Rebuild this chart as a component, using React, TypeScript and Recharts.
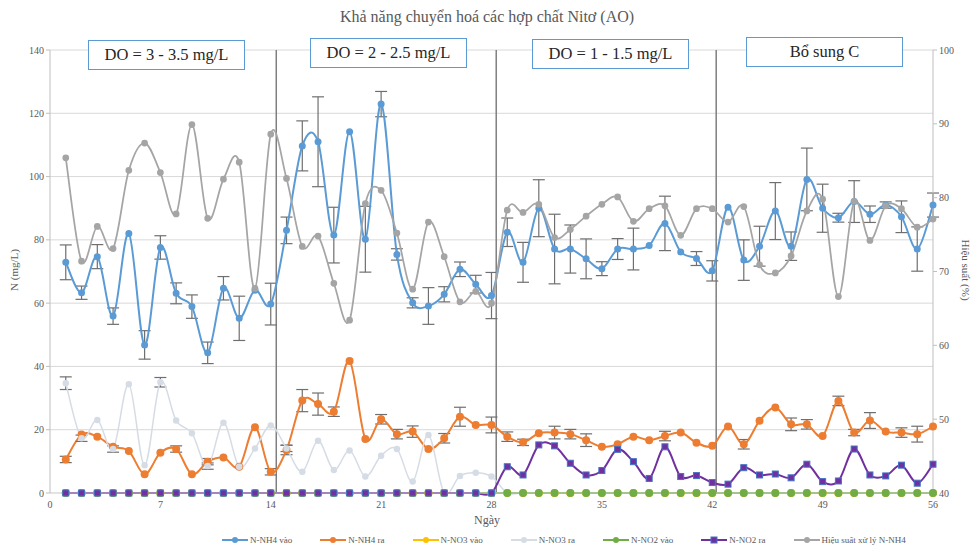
import React from "react";
import { ComposedChart, Line, XAxis, YAxis, CartesianGrid, ReferenceLine, ErrorBar } from "recharts";

const days = [
  1, 2, 3, 4, 5, 6, 7, 8, 9, 10, 11, 12, 13, 14, 15, 16, 17, 18, 19, 20, 21, 22, 23, 24, 25, 26, 27, 28,
  29, 30, 31, 32, 33, 34, 35, 36, 37, 38, 39, 40, 41, 42, 43, 44, 45, 46, 47, 48, 49, 50, 51, 52, 53, 54, 55, 56,
];

const nh4In = [
  72.9, 63.3, 74.7, 55.9, 82, 46.8, 77.6, 63.1, 58.9, 44.3, 64.7, 55.2, 64.1, 59.7, 83, 109.7, 111, 81.5, 114.2, 80.2,
  122.9, 75.4, 60.1, 59.1, 62.8, 70.7, 66, 62.4, 82.4, 72.9, 90, 77.1, 77.1, 74, 70.9, 77.1, 77.1, 78.2, 85.2, 76.2,
  74.1, 70.2, 90.3, 73.6, 78, 89.1, 78, 99.1, 90, 87, 92.1, 88.1, 91, 87.3, 77.1, 91,
];
const nh4InErr = [
  5.5, 2.1, 3.8, 2.6, null, 4.5, 3.7, 3.3, 3.7, 3.4, 3.7, 7, null, 6.6, 4.2, 7.9, 14.2, 8.8, null, 10.4,
  4, 1.8, 1.6, 5.8, 2.4, 2.3, 2.8, 7.3, 4.5, 6.3, 9, 11, 7.6, 6.3, 2.2, 3.3, 6.6, null, 8.6, null,
  2.2, 3.2, null, 6.4, 6.3, 9, 4.5, 9.9, 7.6, 1.4, 6.6, 2.6, 1, 5, 7, 3.8,
];

const nh4Out = [
  10.6, 18.5, 17.8, 14.6, 13.3, 5.9, 12.7, 13.9, 5.9, 9.9, 11.2, 8.3, 20.8, 6.7, 13.6, 29.2, 28.1, 25.7, 41.7, 17.1,
  23.3, 18.6, 19.4, 13.9, 17.3, 24.1, 21.5, 21.5, 17.8, 16, 18.9, 19.1, 18.6, 16.7, 14.6, 15.4, 17.8, 16.7, 18, 19.1,
  15.9, 14.9, 21, 15.4, 22.8, 27, 21.7, 21.7, 18, 29.1, 19.1, 22.9, 19.4, 19.1, 18.6, 21,
];
const nh4OutErr = [
  1, null, null, null, null, null, null, 1, null, 1, null, null, null, 1, 1.5, 3.5, 3.5, 1.5, null, null,
  1.5, 1.5, 1.8, null, 1.5, 3, null, 2.5, 1.5, 1, null, 2, 1.5, 2, null, null, null, null, 1.5, null,
  null, null, null, 1.5, null, null, 2, 1.5, null, 1.5, 1, 2.5, null, 1.5, 2.5, null,
];

const no3In = [
  0, 0, 0, 0, 0, 0, 0, 0, 0, 0, 0, 0, 0, 0, 0, 0, 0, 0, 0, 0, 0, 0, 0, 0, 0, 0, 0, 0,
  0, 0, 0, 0, 0, 0, 0, 0, 0, 0, 0, 0, 0, 0, 0, 0, 0, 0, 0, 0, 0, 0, 0, 0, 0, 0, 0, 0,
];

const no3Out = [
  34.7, 17.3, 23.1, 13.9, 34.4, 8.8, 35, 22.9, 18.9, 8.5, 22.2, 8.3, 14.1, 21.3, 14.1, 6.7, 16.5, 7.3, 13.4, 5.2,
  11.8, 13.9, 3.6, 18.3, 0, 5.4, 6.4, 5.2, 0, 0, 0, 0, 0, 0, 0, 0, 0, 0, 0, 0,
  0, 0, 0, 0, 0, 0, 0, 0, 0, 0, 0, 0, 0, 0, 0, 0,
];
const no3OutErr = [
  2, 1, null, 1, null, null, 1.5, null, null, 1, null, null, null, null, 1, null, null, null, null, null,
  null, null, null, null, null, null, null, null, null, null, null, null, null, null, null, null, null, null, null, null,
  null, null, null, null, null, null, null, null, null, null, null, null, null, null, null, null,
];

const no2In = [
  0, 0, 0, 0, 0, 0, 0, 0, 0, 0, 0, 0, 0, 0, 0, 0, 0, 0, 0, 0, 0, 0, 0, 0, 0, 0, 0, 0,
  0, 0, 0, 0, 0, 0, 0, 0, 0, 0, 0, 0, 0, 0, 0, 0, 0, 0, 0, 0, 0, 0, 0, 0, 0, 0, 0, 0,
];

const no2Out = [
  0, 0, 0, 0, 0, 0, 0, 0, 0, 0, 0, 0, 0, 0, 0, 0, 0, 0, 0, 0, 0, 0, 0, 0, 0, 0, 0, 0,
  8.3, 5.7, 15.2, 14.9, 9.4, 5.7, 7.1, 13.8, 9.9, 4.6, 14.6, 5.2, 5.5, 3.3, 2.8, 8, 5.7, 6, 4.8, 9.1,
  3.6, 3.8, 13.9, 5.7, 5.4, 8.8, 3.1, 9.1,
];

const efficiency = [
  85.4, 71.4, 76.1, 73.1, 83.7, 87.4, 83.4, 77.8, 89.9, 77.2, 82.5, 84.8, 67.7, 88.6, 82.6, 73.4, 74.8, 68.4, 63.4, 79.2,
  81, 75.2, 67.6, 76.7, 72, 65.9, 67.3, 65.7, 78.3, 78, 79.1, 74.6, 75.7, 77.5, 79.1, 80.1, 76.8, 78.5, 78.9, 74.9,
  78.5, 78.5, 76.7, 78.8, 70.9, 69.8, 72.1, 78.2, 79.8, 66.6, 79.5, 74.2, 78.9, 78.5, 76, 77.1,
];

const xTicks = [0, 7, 14, 21, 28, 35, 42, 49, 56];
const leftTicks = [0, 20, 40, 60, 80, 100, 120, 140];
const rightTicks = [40, 50, 60, 70, 80, 90, 100];
const phaseBreaks = [14.35, 28.3, 42.25];
const phaseLabels = ["DO = 3 - 3.5 mg/L", "DO = 2 - 2.5 mg/L", "DO = 1 - 1.5 mg/L", "Bổ sung C"];
const phaseBoxes = [
  { left: 88, top: 40 },
  { left: 310, top: 38 },
  { left: 532, top: 39 },
  { left: 746, top: 37 },
];

const data = days.map((day, i) => ({
  day,
  nh4In: nh4In[i],
  nh4InErr: nh4InErr[i],
  nh4Out: nh4Out[i],
  nh4OutErr: nh4OutErr[i],
  no3In: no3In[i],
  no3Out: no3Out[i],
  no3OutErr: no3OutErr[i],
  no2In: no2In[i],
  no2Out: no2Out[i],
  efficiency: efficiency[i],
}));

// excel style smoothed line (catmull-rom through the points)
const smooth = (context: any) => {
  let pts: number[][] = [];
  return {
    areaStart() {},
    areaEnd() {},
    lineStart() {
      pts = [];
    },
    point(x: number, y: number) {
      pts.push([+x, +y]);
    },
    lineEnd() {
      if (!pts.length) return;
      context.moveTo(pts[0][0], pts[0][1]);
      for (let i = 0; i < pts.length - 1; i++) {
        const p0 = pts[i - 1] || pts[i];
        const p1 = pts[i];
        const p2 = pts[i + 1];
        const p3 = pts[i + 2] || p2;
        context.bezierCurveTo(
          p1[0] + (p2[0] - p0[0]) / 6,
          p1[1] + (p2[1] - p0[1]) / 6,
          p2[0] - (p3[0] - p1[0]) / 6,
          p2[1] - (p3[1] - p1[1]) / 6,
          p2[0],
          p2[1]
        );
      }
    },
  };
};

const SquareDot = (props: any) => {
  const { cx, cy, index } = props;
  if (cx == null || cy == null) return null;
  return <rect key={`sq-${index}`} x={cx - 3} y={cy - 3} width={6} height={6} fill="#7030a0" stroke="#4472c4" strokeWidth={1} />;
};

const font = "'Liberation Serif', 'Times New Roman', serif";
const tickStyle = { fill: "#595959", fontSize: 10, fontFamily: font };
const errColor = "#6f6f6f";

const legendItems = [
  { name: "N-NH4 vào", color: "#5b9bd5", shape: "circle" },
  { name: "N-NH4 ra", color: "#ed7d31", shape: "circle" },
  { name: "N-NO3 vào", color: "#ffc000", shape: "circle" },
  { name: "N-NO3 ra", color: "#d6dce5", shape: "circle" },
  { name: "N-NO2 vào", color: "#70ad47", shape: "circle" },
  { name: "N-NO2 ra", color: "#7030a0", shape: "square" },
  { name: "Hiệu suất xử lý N-NH4", color: "#a5a5a5", shape: "circle" },
];

export default function App() {
  return (
    <div style={{ position: "absolute", left: 0, top: 0, width: 974, height: 547, background: "#fff", fontFamily: font }}>
      <ComposedChart width={974} height={547} data={data} margin={{ top: 50, right: 5, bottom: 34, left: 10 }}>
        <CartesianGrid yAxisId="left" vertical={false} stroke="#d9d9d9" />
        <XAxis
          dataKey="day"
          type="number"
          domain={[0, 56]}
          ticks={xTicks}
          height={20}
          tick={tickStyle}
          tickLine={false}
          axisLine={{ stroke: "#d9d9d9" }}
        />
        <YAxis
          yAxisId="left"
          domain={[0, 140]}
          ticks={leftTicks}
          width={40}
          tick={tickStyle}
          tickSize={4}
          tickLine={{ stroke: "#bfbfbf" }}
          axisLine={{ stroke: "#bfbfbf" }}
        />
        <YAxis
          yAxisId="right"
          orientation="right"
          domain={[40, 100]}
          ticks={rightTicks}
          width={36}
          tick={tickStyle}
          tickSize={4}
          tickLine={{ stroke: "#bfbfbf" }}
          axisLine={{ stroke: "#bfbfbf" }}
        />
        {phaseBreaks.map((x) => (
          <ReferenceLine key={x} x={x} yAxisId="left" stroke="#7f7f7f" strokeWidth={1.5} />
        ))}
        <Line
          yAxisId="left"
          dataKey="nh4In"
          type={smooth as any}
          stroke="#5b9bd5"
          strokeWidth={2}
          dot={{ r: 2.5, fill: "#5b9bd5", stroke: "#5b9bd5" }}
          isAnimationActive={false}
        >
          <ErrorBar dataKey="nh4InErr" direction="y" width={6} stroke={errColor} strokeWidth={1.2} />
        </Line>
        <Line
          yAxisId="left"
          dataKey="nh4Out"
          type={smooth as any}
          stroke="#ed7d31"
          strokeWidth={2}
          dot={{ r: 3, fill: "#ed7d31", stroke: "#ed7d31" }}
          isAnimationActive={false}
        >
          <ErrorBar dataKey="nh4OutErr" direction="y" width={6} stroke={errColor} strokeWidth={1.2} />
        </Line>
        <Line
          yAxisId="left"
          dataKey="no3In"
          type={smooth as any}
          stroke="#ffc000"
          strokeWidth={2}
          dot={{ r: 3, fill: "#ffc000", stroke: "#ffc000" }}
          isAnimationActive={false}
        />
        <Line
          yAxisId="left"
          dataKey="no3Out"
          type={smooth as any}
          stroke="#d6dce5"
          strokeWidth={1.5}
          dot={{ r: 2.5, fill: "#d6dce5", stroke: "#d6dce5" }}
          isAnimationActive={false}
        >
          <ErrorBar dataKey="no3OutErr" direction="y" width={6} stroke={errColor} strokeWidth={1.2} />
        </Line>
        <Line
          yAxisId="left"
          dataKey="no2In"
          type={smooth as any}
          stroke="#70ad47"
          strokeWidth={2}
          dot={{ r: 3, fill: "#70ad47", stroke: "#70ad47" }}
          isAnimationActive={false}
        />
        <Line
          yAxisId="left"
          dataKey="no2Out"
          type={smooth as any}
          stroke="#7030a0"
          strokeWidth={2}
          dot={<SquareDot />}
          isAnimationActive={false}
        />
        <Line
          yAxisId="right"
          dataKey="efficiency"
          type={smooth as any}
          stroke="#a5a5a5"
          strokeWidth={1.75}
          dot={{ r: 2.5, fill: "#a5a5a5", stroke: "#a5a5a5" }}
          isAnimationActive={false}
        />
      </ComposedChart>

      <div style={{ position: "absolute", top: 8, left: 0, width: 974, textAlign: "center", fontSize: 16, color: "#595959" }}>
        Khả năng chuyển hoá các hợp chất Nitơ (AO)
      </div>

      {phaseLabels.map((label, i) => (
        <div
          key={label}
          style={{
            position: "absolute",
            left: phaseBoxes[i].left,
            top: phaseBoxes[i].top,
            width: 157,
            height: 30,
            boxSizing: "border-box",
            border: "1.5px solid #5b9bd5",
            background: "#fff",
            display: "flex",
            alignItems: "center",
            justifyContent: "center",
            fontSize: 16.5,
            color: "#262626",
          }}
        >
          {label}
        </div>
      ))}

      <div
        style={{
          position: "absolute",
          left: 14,
          top: 270,
          transform: "translate(-50%, -50%) rotate(-90deg)",
          fontSize: 11,
          color: "#595959",
          whiteSpace: "nowrap",
        }}
      >
        N (mg/L)
      </div>
      <div
        style={{
          position: "absolute",
          left: 966,
          top: 270,
          transform: "translate(-50%, -50%) rotate(90deg)",
          fontSize: 11,
          color: "#595959",
          whiteSpace: "nowrap",
        }}
      >
        Hiệu suất (%)
      </div>
      <div style={{ position: "absolute", left: 0, width: 974, top: 513, textAlign: "center", fontSize: 12, color: "#595959" }}>
        Ngày
      </div>

      <div style={{ position: "absolute", left: 222, top: 535, display: "flex", alignItems: "center", fontSize: 9, color: "#595959" }}>
        {legendItems.map((item) => (
          <div key={item.name} style={{ display: "flex", alignItems: "center", marginRight: 28 }}>
            <svg width={26} height={8} style={{ marginRight: 2 }}>
              <line x1={0} y1={4} x2={26} y2={4} stroke={item.color} strokeWidth={2} />
              {item.shape === "square" ? (
                <rect x={10} y={1} width={6} height={6} fill="#7030a0" stroke="#4472c4" />
              ) : (
                <circle cx={13} cy={4} r={3} fill={item.color} />
              )}
            </svg>
            <span>{item.name}</span>
          </div>
        ))}
      </div>
    </div>
  );
}
